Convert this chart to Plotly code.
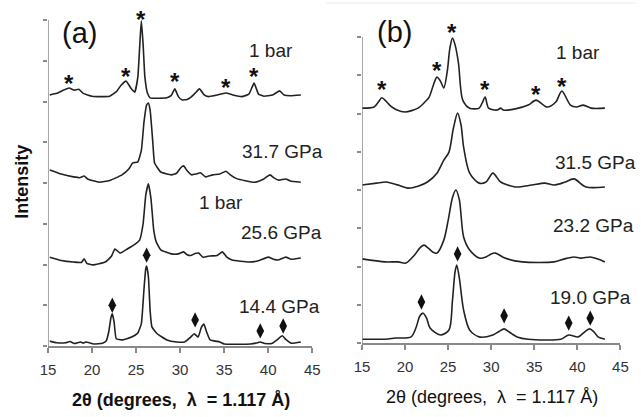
import plotly.graph_objects as go

W, H = 644, 417
FONT = "Liberation Sans, Arial, sans-serif"

# ---------------- panel (a) data (2theta in degrees, intensity in arbitrary units) ----------------
a1_x = [15.2, 16.0, 16.8, 17.4, 18.0, 18.5, 19.0, 20.0, 21.0, 22.0, 22.8, 23.3, 23.86, 24.5, 24.85,
        25.2, 25.45, 25.6, 25.8, 26.0, 26.3, 26.6, 27.5, 28.5, 29.0, 29.4, 29.8, 30.2, 30.8, 31.2,
        31.6, 32.2, 32.7, 33.2, 34.0, 35.2, 36.0, 37.0, 37.8, 38.4, 38.9, 39.5, 40.5, 41.3, 41.8,
        42.5, 43.7]
a1_y = [6.16, 6.20, 6.28, 6.33, 6.28, 6.30, 6.20, 6.13, 6.12, 6.13, 6.25, 6.40, 6.50, 6.30, 6.23,
        6.60, 7.50, 7.98, 7.40, 6.60, 6.20, 6.09, 6.08, 6.09, 6.15, 6.31, 6.12, 6.04, 6.05, 6.10,
        6.18, 6.31, 6.17, 6.12, 6.15, 6.21, 6.16, 6.12, 6.18, 6.45, 6.18, 6.13, 6.16, 6.26, 6.16,
        6.14, 6.16]

a2_x = [15.2, 16.5, 17.9, 18.6, 19.1, 19.5, 20.8, 22.0, 23.4, 24.2, 24.6, 25.2, 25.6, 25.9, 26.2,
        26.4, 26.6, 26.9, 27.1, 27.8, 29.0, 29.6, 30.1, 30.4, 30.8, 31.3, 31.8, 32.3, 32.9, 33.7,
        34.5, 35.2, 35.7, 36.3, 37.5, 38.5, 39.5, 40.2, 40.7, 41.2, 42.0, 42.5, 43.7]
a2_y = [4.32, 4.22, 4.15, 4.13, 4.17, 4.10, 4.02, 4.06, 4.20, 4.35, 4.49, 4.52, 4.80, 5.50, 5.92,
        5.96, 5.78, 5.00, 4.49, 4.27, 4.20, 4.24, 4.38, 4.42, 4.30, 4.20, 4.22, 4.25, 4.15, 4.20,
        4.22, 4.29, 4.20, 4.12, 4.05, 4.02, 4.10, 4.20, 4.12, 4.07, 4.10, 4.05, 4.02]

a3_x = [15.2, 16.5, 17.9, 18.8, 19.1, 19.4, 20.1, 21.5, 22.2, 22.6, 23.2, 24.0, 24.9, 25.4, 25.8,
        26.1, 26.4, 26.7, 27.0, 27.3, 27.8, 29.0, 29.8, 30.4, 30.8, 31.2, 31.7, 32.1, 32.6, 33.4,
        34.2, 34.8, 35.3, 35.9, 37.8, 38.9, 40.0, 40.6, 41.1, 42.0, 42.6, 43.7]
a3_y = [2.18, 2.10, 2.06, 2.05, 2.14, 2.03, 1.99, 2.06, 2.20, 2.38, 2.28, 2.38, 2.50, 2.60, 3.00,
        3.70, 3.98, 3.60, 2.85, 2.55, 2.36, 2.26, 2.26, 2.31, 2.24, 2.22, 2.27, 2.28, 2.18, 2.21,
        2.22, 2.31, 2.18, 2.11, 2.06, 2.09, 2.18, 2.13, 2.11, 2.18, 2.13, 2.16]

a4_x = [15.2, 16.0, 17.0, 17.5, 18.0, 18.7, 19.0, 19.3, 20.2, 21.2, 21.6, 21.9, 22.15, 22.3, 22.5,
        22.75, 23.4, 24.5, 25.2, 25.6, 25.9, 26.1, 26.2, 26.4, 26.6, 26.8, 27.4, 28.5, 29.6, 30.5,
        31.2, 31.6, 32.05, 32.4, 32.7, 33.0, 33.4, 34.5, 35.0, 38.0, 38.6, 39.1, 39.6, 40.4, 41.0,
        41.6, 42.0, 42.6, 43.7]
a4_y = [0.12, 0.08, 0.08, 0.11, 0.06, 0.10, 0.07, 0.10, 0.05, 0.07, 0.12, 0.35, 0.70, 0.79, 0.60,
        0.18, 0.15, 0.22, 0.32, 0.55, 1.40, 1.90, 1.96, 1.70, 0.85, 0.47, 0.30, 0.15, 0.10, 0.10,
        0.22, 0.30, 0.22, 0.45, 0.54, 0.35, 0.15, 0.10, 0.05, 0.05, 0.07, 0.10, 0.06, 0.06, 0.15,
        0.25, 0.16, 0.07, 0.10]

a_star_x = [17.4, 23.8, 25.6, 29.4, 35.2, 38.4]
a_star_y = [6.53, 6.70, 8.12, 6.58, 6.45, 6.70]
a_diam_x = [22.3, 26.2, 31.7, 39.1, 41.7]
a_diam_y = [1.00, 2.23, 0.64, 0.37, 0.49]

# ---------------- panel (b) data ----------------
b1_x = [15.0, 16.4, 16.9, 17.3, 17.8, 18.3, 19.0, 20.0, 21.5, 22.3, 22.8, 23.3, 23.7, 24.1, 24.5,
        24.9, 25.2, 25.5, 25.8, 26.2, 26.7, 27.5, 28.6, 29.0, 29.3, 29.7, 30.7, 31.1, 31.4, 32.8,
        34.3, 35.2, 36.5, 37.5, 38.2, 39.2, 39.9, 40.7, 41.6, 43.2]
b1_y = [6.14, 6.17, 6.30, 6.41, 6.32, 6.20, 6.10, 6.04, 6.14, 6.30, 6.43, 6.75, 6.95, 6.85, 6.67,
        7.10, 7.70, 7.97, 7.80, 7.32, 6.35, 6.14, 6.14, 6.30, 6.43, 6.14, 6.09, 6.14, 6.09, 6.12,
        6.22, 6.35, 6.17, 6.30, 6.59, 6.22, 6.17, 6.22, 6.14, 6.14]

b2_x = [15.0, 16.7, 17.8, 19.2, 20.3, 21.5, 22.6, 23.7, 24.5, 25.1, 25.6, 26.1, 26.5, 26.8, 27.5,
        28.6, 29.4, 30.2, 31.1, 32.8, 34.7, 36.2, 37.3, 38.5, 39.6, 41.0, 43.2]
b2_y = [4.13, 4.18, 4.21, 4.13, 4.05, 4.10, 4.21, 4.44, 4.78, 4.99, 5.60, 6.01, 5.70, 5.12, 4.44,
        4.18, 4.21, 4.44, 4.21, 4.08, 4.13, 4.18, 4.13, 4.20, 4.29, 4.08, 4.08]

b3_x = [15.0, 17.7, 19.2, 20.1, 21.1, 21.7, 22.2, 22.7, 23.2, 23.7, 24.5, 25.0, 25.5, 25.9, 26.3,
        26.8, 27.5, 28.6, 29.4, 30.0, 30.5, 31.6, 33.6, 37.3, 38.5, 39.6, 40.4, 41.5, 42.3, 43.2]
b3_y = [2.20, 2.12, 2.12, 2.09, 2.30, 2.48, 2.56, 2.48, 2.38, 2.35, 2.69, 3.20, 3.80, 4.00, 3.75,
        2.77, 2.43, 2.22, 2.25, 2.33, 2.35, 2.22, 2.12, 2.12, 2.20, 2.25, 2.22, 2.25, 2.20, 2.12]

b4_x = [15.0, 17.7, 18.9, 20.7, 21.3, 21.7, 22.1, 22.5, 22.9, 24.1, 25.1, 25.5, 25.8, 26.0, 26.3,
        26.8, 27.5, 28.6, 30.2, 30.9, 31.5, 32.0, 32.4, 33.0, 34.3, 38.1, 39.0, 40.1, 40.8, 41.4,
        41.9, 42.4, 43.2]
b4_y = [0.10, 0.10, 0.13, 0.16, 0.42, 0.70, 0.78, 0.65, 0.39, 0.21, 0.34, 1.10, 1.85, 2.04, 1.70,
        0.86, 0.34, 0.16, 0.21, 0.30, 0.37, 0.30, 0.24, 0.16, 0.10, 0.10, 0.21, 0.16, 0.28, 0.37,
        0.30, 0.16, 0.10]

b_star_x = [17.3, 23.7, 25.5, 29.3, 35.2, 38.2]
b_star_y = [6.72, 7.22, 8.21, 6.72, 6.59, 6.82]
b_diam_x = [21.9, 26.1, 31.5, 39.0, 41.5]
b_diam_y = [1.07, 2.33, 0.71, 0.52, 0.65]

a_labels = ["1 bar", "31.7 GPa", "1 bar", "25.6 GPa", "14.4 GPa"]
b_labels = ["1 bar", "31.5 GPa", "23.2 GPa", "19.0 GPa"]
x_ticks = [15, 20, 25, 30, 35, 40, 45]
y_ticks = [0, 1, 2, 3, 4, 5, 6, 7, 8]
x_range = [15, 45]
y_top = 8
y_range = [0, 8.4]
x_title = "2\u03b8 (degrees,\u00a0\u00a0\u03bb\u00a0\u00a0= 1.117 \u00c5)"


def px(x):
    return x / W


def py(y):
    return 1 - y / H


fig = go.Figure()
LINE = dict(color="#222222", width=1.6)

for xs, ys in [(a1_x, a1_y), (a2_x, a2_y), (a3_x, a3_y), (a4_x, a4_y)]:
    fig.add_trace(go.Scatter(x=xs, y=ys, mode="lines", line=dict(**LINE, shape="spline", smoothing=0.4),
                             xaxis="x", yaxis="y", showlegend=False, hoverinfo="skip"))
for xs, ys in [(b1_x, b1_y), (b2_x, b2_y), (b3_x, b3_y), (b4_x, b4_y)]:
    fig.add_trace(go.Scatter(x=xs, y=ys, mode="lines", line=dict(**LINE, shape="spline", smoothing=0.8),
                             xaxis="x2", yaxis="y2", showlegend=False, hoverinfo="skip"))

for dx, dy, xa, ya in [(a_diam_x, a_diam_y, "x", "y"), (b_diam_x, b_diam_y, "x2", "y2")]:
    fig.add_trace(go.Scatter(x=dx, y=dy, mode="markers", xaxis=xa, yaxis=ya, cliponaxis=False,
                             marker=dict(symbol="diamond-tall", size=11, color="#111"),
                             showlegend=False, hoverinfo="skip"))

annotations = []
for sx_list, sy_list, xa, ya in [(a_star_x, a_star_y, "x", "y"), (b_star_x, b_star_y, "x2", "y2")]:
    for sx, sy in zip(sx_list, sy_list):
        annotations.append(dict(x=sx, y=sy, xref=xa, yref=ya, text="<b>*</b>", showarrow=False,
                                font=dict(family=FONT, size=24, color="#111"), yshift=-4))

a_label_pos = [(270, 50), (281, 152), (218, 202), (280, 232), (278, 306)]
b_label_pos = [(585, 52), (602, 162), (600, 225), (597, 297)]
for t, (lx, ly) in zip(a_labels + b_labels, a_label_pos + b_label_pos):
    annotations.append(dict(x=px(lx), y=py(ly), xref="paper", yref="paper", text=t, showarrow=False,
                            xanchor="center", yanchor="middle",
                            font=dict(family=FONT, size=19, color="#222")))

annotations.append(dict(x=px(73), y=py(33), xref="paper", yref="paper", text="(a)", showarrow=False,
                        xanchor="center", yanchor="middle", font=dict(family=FONT, size=29, color="#111")))
annotations.append(dict(x=px(396), y=py(32), xref="paper", yref="paper", text="(b)", showarrow=False,
                        xanchor="center", yanchor="middle", font=dict(family=FONT, size=29, color="#111")))
annotations.append(dict(x=px(14), y=py(182), xref="paper", yref="paper", text="<b>Intensity</b>",
                        showarrow=False, textangle=-90, xanchor="center", yanchor="middle",
                        font=dict(family=FONT, size=18, color="#111")))
annotations.append(dict(x=px(177), y=py(400), xref="paper", yref="paper", text="<b>" + x_title + "</b>",
                        showarrow=False, xanchor="center", yanchor="middle",
                        font=dict(family=FONT, size=18, color="#111")))
annotations.append(dict(x=px(496), y=py(397), xref="paper", yref="paper", text=x_title,
                        showarrow=False, xanchor="center", yanchor="middle",
                        font=dict(family=FONT, size=18, color="#111")))

AXC = "#8a8a8a"
AX = dict(showgrid=False, zeroline=False, ticks="outside", tickcolor=AXC, tickwidth=1.5)
XAX = dict(AX, range=x_range, tickvals=x_ticks, ticklen=5, ticklabelstandoff=4,
           showline=True, linecolor=AXC, linewidth=1.5,
           tickfont=dict(family=FONT, size=15, color="#333"))
YAX = dict(AX, range=y_range, tickvals=y_ticks, ticklen=4, showticklabels=False, showline=False)

# y-axis lines drawn up to the top tick only
shapes = [dict(type="line", xref="paper", yref="paper", x0=px(326), x1=1, y0=py(3), y1=py(3),
               line=dict(color="#ececec", width=1))]
for xa, ya in [("x", "y"), ("x2", "y2")]:
    shapes.append(dict(type="line", xref=xa, yref=ya, x0=x_range[0], x1=x_range[0], y0=0, y1=y_top,
                       line=dict(color=AXC, width=1.5)))

# pixels per intensity unit: panel a 40.75, panel b 38.25
a_top = 346 - y_range[1] * 40.75
b_top = 343 - y_range[1] * 38.25

fig.update_layout(
    width=W, height=H, margin=dict(l=0, r=0, t=0, b=0),
    paper_bgcolor="white", plot_bgcolor="white",
    xaxis=dict(XAX, domain=[px(41), px(312)], anchor="y"),
    yaxis=dict(YAX, domain=[py(346), py(a_top)], anchor="x"),
    xaxis2=dict(XAX, domain=[px(363), px(628)], anchor="y2"),
    yaxis2=dict(YAX, domain=[py(343), py(b_top)], anchor="x2"),
    annotations=annotations,
    shapes=shapes,
)

fig.write_html("out.html", config={"displayModeBar": False},
               post_script="document.body.style.margin='0px';document.body.style.padding='0px';")
